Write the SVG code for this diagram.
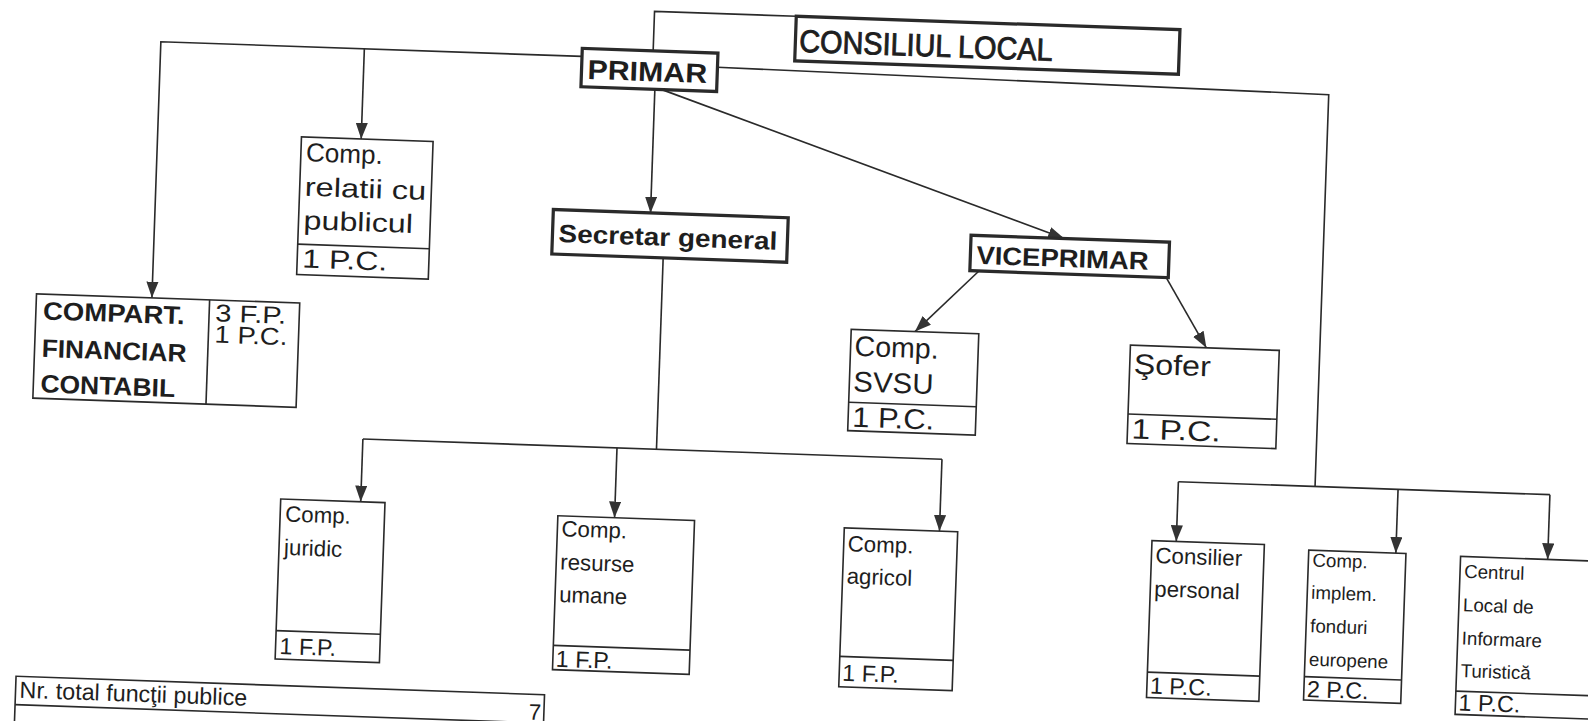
<svg xmlns="http://www.w3.org/2000/svg" width="1588" height="721" viewBox="0 0 1588 721">
<defs>
<style>
.bx{fill:#fff;stroke:#2a2a2a;stroke-width:1.6}
.tk{fill:#fff;stroke:#2a2a2a;stroke-width:3.2}
.ln{fill:none;stroke:#2a2a2a;stroke-width:1.6}
text{font-family:"Liberation Sans",Arial,sans-serif;fill:#1e1e1e}
.b{font-weight:bold}
.t28{font-size:28px}.t26{font-size:26px}.t24{font-size:24px}.t23{font-size:23px}.t22{font-size:22px}.t19{font-size:18.5px}
</style>
<marker id="arr" viewBox="0 0 16 12" markerWidth="16" markerHeight="12" refX="16" refY="6" orient="auto" markerUnits="userSpaceOnUse">
<path d="M0,0 L16,6 L0,12 z" fill="#333"/>
</marker>
</defs>
<rect x="0" y="0" width="1588" height="721" fill="#fff"/>
<g transform="translate(150 40) scale(1.013) translate(-150 -40)">
<g transform="rotate(2 794 360)">
<g id="connectors">
<polyline class="ln" points="636,58 636,17 776,17"/>
<polyline class="ln" points="566,64 150,64 150,317" marker-end="url(#arr)"/>
<line class="ln" x1="351" y1="64" x2="351" y2="153" marker-end="url(#arr)"/>
<line class="ln" x1="639" y1="94" x2="639" y2="216" marker-end="url(#arr)"/>
<line class="ln" x1="646" y1="94" x2="1048" y2="227" marker-end="url(#arr)"/>
<polyline class="ln" points="700,70 1304,76 1304,463"/>
<line class="ln" x1="1169" y1="463" x2="1536" y2="463"/>
<line class="ln" x1="1169" y1="463" x2="1169" y2="522" marker-end="url(#arr)"/>
<line class="ln" x1="1386" y1="463" x2="1386" y2="526" marker-end="url(#arr)"/>
<line class="ln" x1="1536" y1="463" x2="1536" y2="527" marker-end="url(#arr)"/>
<line class="ln" x1="965" y1="262" x2="904" y2="324" marker-end="url(#arr)"/>
<line class="ln" x1="1150" y1="262" x2="1192" y2="330" marker-end="url(#arr)"/>
<line class="ln" x1="653" y1="260" x2="653" y2="449"/>
<line class="ln" x1="363" y1="449" x2="935" y2="449"/>
<line class="ln" x1="363" y1="449" x2="363" y2="511" marker-end="url(#arr)"/>
<line class="ln" x1="614" y1="449" x2="614" y2="518" marker-end="url(#arr)"/>
<line class="ln" x1="935" y1="449" x2="935" y2="520" marker-end="url(#arr)"/>
</g>
<g id="consiliul">
<rect class="tk" x="776" y="17" width="379" height="44"/>
<text x="780" y="52" font-size="31" textLength="250" lengthAdjust="spacingAndGlyphs" stroke="#1e1e1e" stroke-width="0.9">CONSILIUL LOCAL</text>
</g>
<g id="primar">
<rect class="tk" x="566" y="56" width="134" height="38"/>
<text class="b" x="572" y="86" font-size="27" textLength="118" lengthAdjust="spacingAndGlyphs">PRIMAR</text>
</g>
<g id="secretar">
<rect class="tk" x="543" y="216" width="232" height="44"/>
<text class="b" x="549" y="248" font-size="25" textLength="216" lengthAdjust="spacingAndGlyphs">Secretar general</text>
</g>
<g id="viceprimar">
<rect class="tk" x="956" y="227" width="196" height="35"/>
<text class="b" x="962" y="255" font-size="25" textLength="170" lengthAdjust="spacingAndGlyphs">VICEPRIMAR</text>
</g>
<g id="compart">
<rect class="bx" x="36" y="317" width="260" height="103"/>
<line class="ln" x1="207" y1="317" x2="207" y2="420"/>
<text class="b" x="43" y="342" font-size="25" textLength="140" lengthAdjust="spacingAndGlyphs">COMPART.</text>
<text class="b" x="43" y="379" font-size="25" textLength="143" lengthAdjust="spacingAndGlyphs">FINANCIAR</text>
<text class="b" x="43" y="414" font-size="25" textLength="133" lengthAdjust="spacingAndGlyphs">CONTABIL</text>
<text class="t24" x="213" y="338" textLength="70" lengthAdjust="spacingAndGlyphs">3 F.P.</text>
<text class="t24" x="213" y="359" textLength="72" lengthAdjust="spacingAndGlyphs">1 P.C.</text>
</g>
<g id="relatii">
<rect class="bx" x="292" y="153" width="130" height="136"/>
<line class="ln" x1="292" y1="259" x2="422" y2="259"/>
<text class="t26" x="297" y="177" textLength="76" lengthAdjust="spacingAndGlyphs">Comp.</text>
<text class="t26" x="297" y="211" textLength="120" lengthAdjust="spacingAndGlyphs">relatii cu</text>
<text class="t26" x="297" y="244" textLength="108" lengthAdjust="spacingAndGlyphs">publicul</text>
<text class="t26" x="297" y="282" textLength="84" lengthAdjust="spacingAndGlyphs">1 P.C.</text>
</g>
<g id="svsu">
<rect class="bx" x="841" y="324" width="126" height="100"/>
<line class="ln" x1="841" y1="396" x2="967" y2="396"/>
<text class="t28" x="845" y="350" textLength="83" lengthAdjust="spacingAndGlyphs">Comp.</text>
<text class="t28" x="845" y="385" textLength="79" lengthAdjust="spacingAndGlyphs">SVSU</text>
<text class="t28" x="845" y="420" textLength="81" lengthAdjust="spacingAndGlyphs">1 P.C.</text>
</g>
<g id="sofer">
<rect class="bx" x="1117" y="330" width="147" height="97"/>
<line class="ln" x1="1117" y1="398" x2="1264" y2="398"/>
<text class="t28" x="1121" y="358" textLength="76" lengthAdjust="spacingAndGlyphs">Şofer</text>
<text class="t28" x="1121" y="422" textLength="88" lengthAdjust="spacingAndGlyphs">1 P.C.</text>
</g>
<g id="juridic">
<rect class="bx" x="284" y="511" width="103" height="158"/>
<line class="ln" x1="284" y1="641" x2="387" y2="641"/>
<text class="t22" x="289" y="533">Comp.</text>
<text class="t22" x="289" y="566">juridic</text>
<text class="t23" x="288" y="664">1 F.P.</text>
</g>
<g id="resurse">
<rect class="bx" x="558" y="518" width="135" height="152"/>
<line class="ln" x1="558" y1="646" x2="693" y2="646"/>
<text class="t22" x="562" y="538">Comp.</text>
<text class="t22" x="562" y="571">resurse</text>
<text class="t22" x="562" y="603">umane</text>
<text class="t23" x="561" y="667">1 F.P.</text>
</g>
<g id="agricol">
<rect class="bx" x="841" y="520" width="112" height="157"/>
<line class="ln" x1="841" y1="647" x2="953" y2="647"/>
<text class="t22" x="845" y="543">Comp.</text>
<text class="t22" x="845" y="575">agricol</text>
<text class="t23" x="844" y="671">1 F.P.</text>
</g>
<g id="consilier">
<rect class="bx" x="1145" y="522" width="111" height="155"/>
<line class="ln" x1="1145" y1="652" x2="1256" y2="652"/>
<text class="t22" x="1149" y="544">Consilier</text>
<text class="t22" x="1149" y="577">personal</text>
<text class="t23" x="1148" y="673">1 P.C.</text>
</g>
<g id="fonduri">
<rect class="bx" x="1300" y="526" width="96" height="148"/>
<line class="ln" x1="1300" y1="651" x2="1396" y2="651"/>
<text class="t19" x="1304" y="542">Comp.</text>
<text class="t19" x="1304" y="574">implem.</text>
<text class="t19" x="1304" y="607">fonduri</text>
<text class="t19" x="1304" y="640">europene</text>
<text class="t23" x="1303" y="671">2 P.C.</text>
</g>
<g id="centrul">
<rect class="bx" x="1450" y="527" width="170" height="156"/>
<line class="ln" x1="1450" y1="660" x2="1620" y2="660"/>
<text class="t19" x="1454" y="548">Centrul</text>
<text class="t19" x="1454" y="581">Local de</text>
<text class="t19" x="1454" y="614">Informare</text>
<text class="t19" x="1454" y="646">Turistică</text>
<text class="t23" x="1453" y="679">1 P.C.</text>
</g>
<g id="total">
<rect class="bx" x="29" y="695" width="522" height="90"/>
<line class="ln" x1="29" y1="723" x2="551" y2="723"/>
<text class="t23" x="33" y="716">Nr. total funcţii publice</text>
<text class="t22" x="536" y="720">7</text>
</g>
</g>
</g>
</svg>
